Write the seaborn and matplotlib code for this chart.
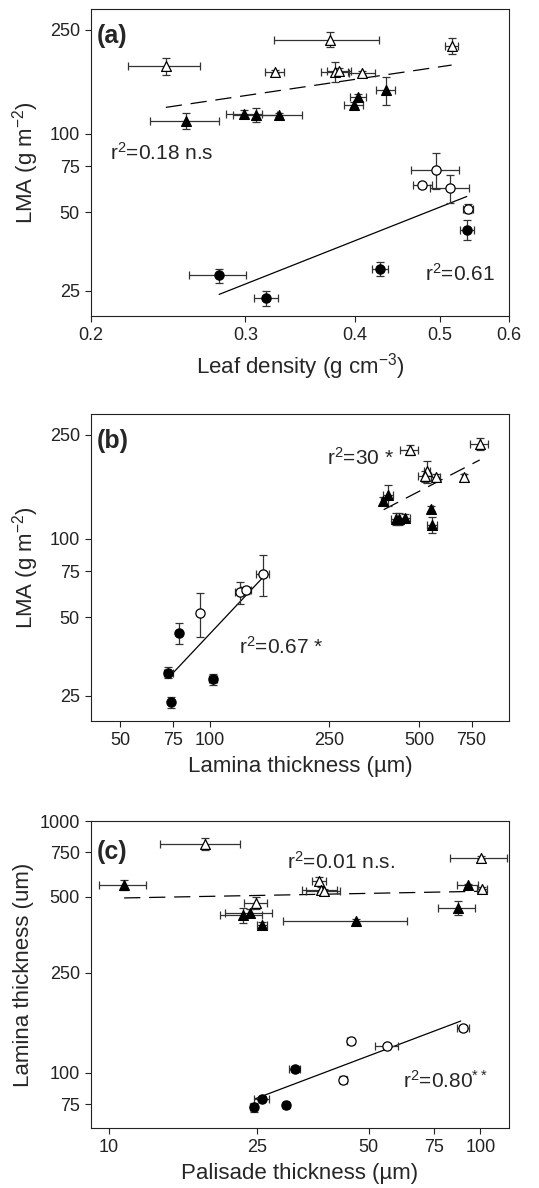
import numpy as np
import pandas as pd
import matplotlib
matplotlib.use('Agg')
import matplotlib.pyplot as plt
import seaborn as sns

# ---- panel (a): leaf density vs LMA
a_x = [0.2435, 0.3747, 0.516, 0.324, 0.3797, 0.384, 0.408,
       0.2567, 0.2993, 0.3083, 0.3279, 0.399, 0.404, 0.434,
       0.495, 0.478, 0.514, 0.539,
       0.537, 0.428, 0.2797, 0.317]
a_xerr = [0.023, 0.0515, 0.0085, 0.008, 0.0135, 0.012, 0.0135,
          0.023, 0.014, 0.018, 0.02, 0.01, 0.0085, 0.011,
          0.0315, 0.0115, 0.0265, 0.007,
          0.01, 0.009, 0.021, 0.01]
a_y = [181, 229, 217, 172.7, 172.7, 174, 171,
       112, 119, 118, 118, 129, 137.6, 147,
       72.6, 63.3, 61.9, 51.5,
       42.8, 30.4, 28.6, 23.4]
a_yerr = [13, 15, 16, 2, 15.5, 4, 3,
          7.5, 4, 7, 2, 3, 4, 18,
          11.3, 1.5, 7.6, 2,
          3.8, 1.85, 1.75, 1.5]
a_grp = ['otri'] * 7 + ['ftri'] * 7 + ['ocirc'] * 4 + ['fcirc'] * 4
a_dash = ([0.2435, 0.516], [126, 183])
a_solid = ([0.2801, 0.537], [24.2, 57.4])

# ---- panel (b): lamina thickness vs LMA
b_x = [465, 798, 533, 522, 568, 707,
       394, 380, 418, 430, 448, 550, 554,
       150, 126, 132, 92.7,
       78.8, 72.5, 102.6, 74.1]
b_xerr = [33, 56, 12, 25, 20, 10,
          15, 8, 15, 15, 20, 6, 22,
          8, 5, 5, 1,
          1, 2.5, 3, 1]
b_y = [219, 230, 181, 173, 172, 172,
       147, 139, 119, 119, 120, 130, 113,
       73.3, 62.3, 63.4, 52,
       43.3, 30.6, 28.9, 23.6]
b_yerr = [10, 12, 18, 8, 4, 5,
          14, 5, 6, 6, 4, 3, 8,
          13, 6, 2, 10,
          4, 1.5, 1.5, 1.2]
b_grp = ['otri'] * 6 + ['ftri'] * 7 + ['ocirc'] * 4 + ['fcirc'] * 4
b_solid = ([73.5, 150], [29.7, 70.8])
b_dash = ([381, 798], [129, 200])

# ---- panel (c): palisade thickness vs lamina thickness
c_x = [18.1, 100.5, 101, 36.8, 37.2, 37.9, 24.9,
       10.98, 86.9, 92.5, 22.9, 24.0, 25.9, 46.4,
       90.0, 56.0, 44.8, 42.8,
       31.6, 25.8, 24.5, 30.0]
c_xerr = [4.4, 17.7, 3, 1.5, 4, 4, 1.8,
          1.6, 9.8, 6, 3, 3.5, 0.8, 17,
          3.5, 4, 1, 1,
          1, 1.2, 0.5, 0.5]
c_y = [813, 715, 539, 580, 534, 526, 473,
       559, 452, 556, 422, 431, 388, 402,
       150.3, 127.8, 133.7, 94.1,
       103.4, 79, 73.2, 74.3]
c_yerr = [45, 10, 10, 20, 12, 10, 25,
          25, 30, 8, 30, 15, 8, 8,
          4, 2, 3, 3,
          3, 2, 3, 1.5]
c_grp = ['otri'] * 7 + ['ftri'] * 7 + ['ocirc'] * 4 + ['fcirc'] * 4
c_dash = ([10.98, 100], [495, 526])
c_solid = ([24.8, 88.6], [79, 160.6])

sns.set_style('ticks')
plt.rcParams['font.family'] = ['Liberation Sans', 'DejaVu Sans']
plt.rcParams['mathtext.default'] = 'regular'

styles = {
    'otri': dict(marker='^', color='white', s=50),
    'ftri': dict(marker='^', color='black', s=50),
    'ocirc': dict(marker='o', color='white', s=44),
    'fcirc': dict(marker='o', color='black', s=44),
}


def draw_panel(ax, xs, ys, xe, ye, grp, dash, solid):
    df = pd.DataFrame({'x': xs, 'y': ys, 'xerr': xe, 'yerr': ye, 'grp': grp})
    ax.errorbar(df.x, df.y, xerr=df.xerr, yerr=df.yerr, fmt='none',
                ecolor='#333333', elinewidth=0.9, capsize=3, capthick=0.9,
                zorder=2)
    sns.lineplot(x=dash[0], y=dash[1], ax=ax, color='black', lw=0.9,
                 linestyle=(0, (13, 7)), zorder=1)
    sns.lineplot(x=solid[0], y=solid[1], ax=ax, color='black', lw=0.9,
                 zorder=1)
    for g, st in styles.items():
        sub = df[df.grp == g]
        sns.scatterplot(data=sub, x='x', y='y', ax=ax, marker=st['marker'],
                        color=st['color'], s=st['s'], edgecolor='black',
                        linewidth=0.9, zorder=3, legend=False)


def fix_axes(ax, xlim, ylim, xt, yt):
    ax.set_xscale('log')
    ax.set_yscale('log')
    ax.set_xlim(*xlim)
    ax.set_ylim(*ylim)
    ax.set_xticks(xt)
    ax.set_xticklabels([str(t) for t in xt])
    ax.set_yticks(yt)
    ax.set_yticklabels([str(t) for t in yt])
    ax.minorticks_off()
    for s in ax.spines.values():
        s.set_visible(True)
        s.set_linewidth(0.8)
        s.set_color('#222222')
    ax.tick_params(labelsize=13, length=4, width=0.8, colors='#222222',
                   labelcolor='#222222', pad=4)


fig = plt.figure(figsize=(5.39, 11.88), dpi=100)
ax1 = fig.add_axes([0.1688, 0.734, 0.7755, 0.2584])
ax2 = fig.add_axes([0.1688, 0.3931, 0.7755, 0.2584])
ax3 = fig.add_axes([0.1688, 0.0505, 0.7755, 0.2584])

lab = 16
note = 15

draw_panel(ax1, a_x, a_y, a_xerr, a_yerr, a_grp, a_dash, a_solid)
fix_axes(ax1, (0.2, 0.6), (20, 300), [0.2, 0.3, 0.4, 0.5, 0.6],
         [25, 50, 75, 100, 250])
ax1.set_xlabel('Leaf density (g cm$^{-3}$)', fontsize=lab, labelpad=5)
ax1.set_ylabel('LMA (g m$^{-2}$)', fontsize=lab, labelpad=6)
ax1.text(0.014, 0.912, '(a)', transform=ax1.transAxes, fontsize=18,
         fontweight='bold', va='center')
ax1.text(0.045, 0.531, 'r$^2$=0.18 n.s', transform=ax1.transAxes,
         fontsize=note, va='center')
ax1.text(0.80, 0.137, 'r$^2$=0.61', transform=ax1.transAxes,
         fontsize=note, va='center')

draw_panel(ax2, b_x, b_y, b_xerr, b_yerr, b_grp, b_dash, b_solid)
fix_axes(ax2, (40, 1000), (20, 300), [50, 75, 100, 250, 500, 750],
         [25, 50, 75, 100, 250])
ax2.set_xlabel('Lamina thickness (µm)', fontsize=lab, labelpad=5)
ax2.set_ylabel('LMA (g m$^{-2}$)', fontsize=lab, labelpad=6)
ax2.text(0.014, 0.912, '(b)', transform=ax2.transAxes, fontsize=18,
         fontweight='bold', va='center')
ax2.text(0.565, 0.857, 'r$^2$=30 *', transform=ax2.transAxes,
         fontsize=note, va='center')
ax2.text(0.354, 0.241, 'r$^2$=0.67 *', transform=ax2.transAxes,
         fontsize=note, va='center')

draw_panel(ax3, c_x, c_y, c_xerr, c_yerr, c_grp, c_dash, c_solid)
fix_axes(ax3, (8.94, 119.5), (60.4, 1000), [10, 25, 50, 75, 100],
         [75, 100, 250, 500, 750, 1000])
ax3.set_xlabel('Palisade thickness (µm)', fontsize=lab, labelpad=5)
ax3.set_ylabel('Lamina thickness (um)', fontsize=lab, labelpad=4)
ax3.text(0.014, 0.9, '(c)', transform=ax3.transAxes, fontsize=18,
         fontweight='bold', va='center')
ax3.text(0.469, 0.866, 'r$^2$=0.01 n.s.', transform=ax3.transAxes,
         fontsize=note, va='center')
ax3.text(0.746, 0.153, 'r$^2$=0.80$^{**}$', transform=ax3.transAxes,
         fontsize=note, va='center')

fig.savefig('out.png', dpi=100)
